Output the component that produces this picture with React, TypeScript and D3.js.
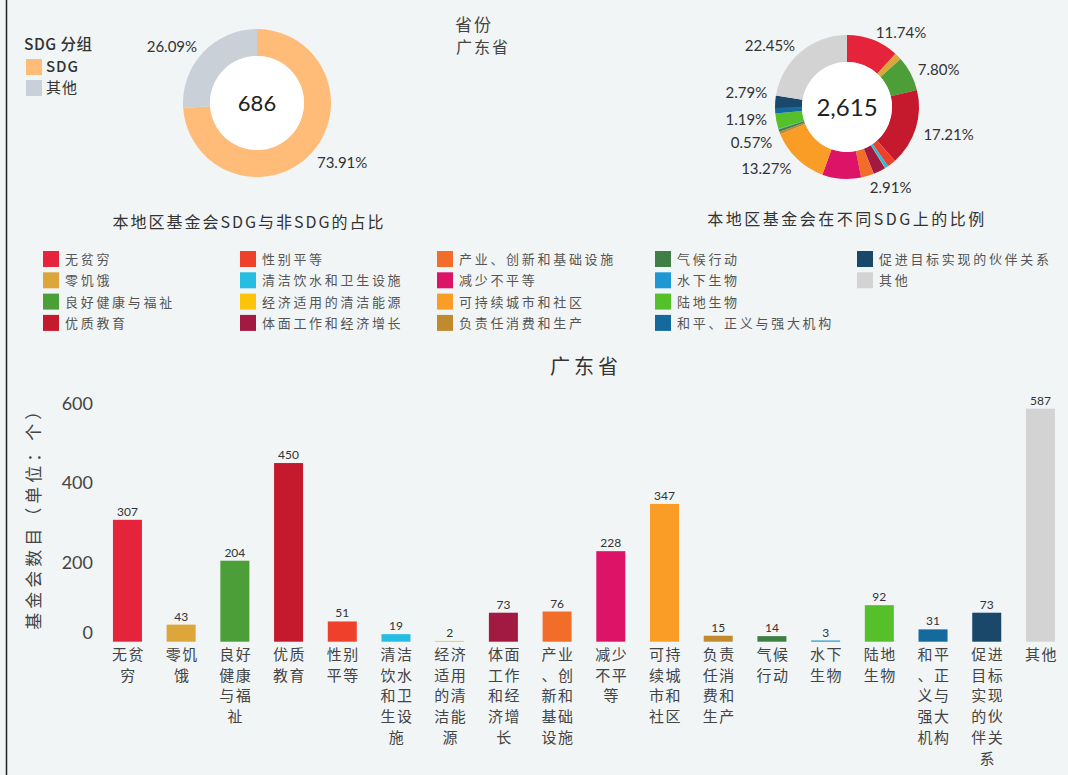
import { useEffect, useRef } from 'react';
import * as d3 from 'd3';

const SDG_NAMES = [
  '无贫穷', '零饥饿', '良好健康与福祉', '优质教育', '性别平等', '清洁饮水和卫生设施',
  '经济适用的清洁能源', '体面工作和经济增长', '产业、创新和基础设施', '减少不平等',
  '可持续城市和社区', '负责任消费和生产', '气候行动', '水下生物', '陆地生物',
  '和平、正义与强大机构', '促进目标实现的伙伴关系', '其他',
];
const SDG_COUNTS = [307, 43, 204, 450, 51, 19, 2, 73, 76, 228, 347, 15, 14, 3, 92, 31, 73, 587];
const SDG_COLORS = [
  '#e5243b', '#dda63a', '#4c9f38', '#c5192d', '#ef402b', '#26bde2', '#fcc30b', '#a21942',
  '#f36d2a', '#dd1367', '#f99d26', '#bf8b2e', '#3f7e44', '#1f97d4', '#56c02b', '#14699d',
  '#19486a', '#d3d3d3',
];
// which slices of the right donut carry a percent label
const LABELED = ['无贫穷', '良好健康与福祉', '优质教育', '产业、创新和基础设施', '可持续城市和社区',
  '负责任消费和生产', '和平、正义与强大机构', '促进目标实现的伙伴关系', '其他'];

const GROUP_NAMES = ['SDG', '其他'];
const GROUP_COUNTS = [507, 179];
const GROUP_COLORS = ['#ffbb78', '#c9d0d8'];

const Y_TICKS = [0, 200, 400, 600];
const LEGEND_COLS = [43, 240, 437, 655, 857];

const W = 1068;
const H = 775;
const BG = '#f1f5f6';
const CJK = '"Noto Sans CJK SC", sans-serif';
const NUM = 'Lato, "Noto Sans", sans-serif';

type Lbl = { x: number; y: number; right: boolean; text: string };

// push labels on the same side apart so they don't collide
function relax(labels: Lbl[], gap: number) {
  for (const side of [true, false]) {
    const s = labels.filter((l) => l.right === side).sort((a, b) => a.y - b.y);
    for (let it = 0; it < 30; it++) {
      let moved = false;
      for (let i = 1; i < s.length; i++) {
        const d = s[i].y - s[i - 1].y;
        if (d < gap) {
          const m = (gap - d) / 2;
          s[i - 1].y -= m;
          s[i].y += m;
          moved = true;
        }
      }
      if (!moved) break;
    }
  }
  return labels;
}

function donut(
  g: d3.Selection<SVGGElement, unknown, null, undefined>,
  counts: number[], colors: string[], inner: number, outer: number,
  centerSize: number, show: (i: number) => boolean,
) {
  const total = d3.sum(counts);
  const arcs = d3.pie<number>().sort(null).value((d) => d)(counts);
  const arc = d3.arc<d3.PieArcDatum<number>>().innerRadius(inner).outerRadius(outer);
  g.selectAll('path').data(arcs).join('path').attr('d', arc).attr('fill', (_, i) => colors[i]);
  g.append('circle').attr('r', inner).attr('fill', '#fff');
  g.append('text').attr('text-anchor', 'middle').attr('dy', '0.36em')
    .attr('font-family', NUM).attr('font-size', centerSize).attr('fill', '#222')
    .text(d3.format(',')(total));

  const r = outer + 8;
  const labels: Lbl[] = arcs.filter((a) => show(a.index)).map((a) => {
    const ang = (a.startAngle + a.endAngle) / 2;
    return {
      x: Math.sin(ang) * r,
      y: -Math.cos(ang) * r,
      right: Math.sin(ang) >= 0,
      text: ((a.data / total) * 100).toFixed(2) + '%',
    };
  });
  relax(labels, 23);
  g.selectAll('text.p').data(labels).join('text').attr('class', 'p')
    .attr('x', (d) => d.x).attr('y', (d) => d.y + (d.y > 0 ? 4 : 0))
    .attr('text-anchor', (d) => (d.right ? 'start' : 'end')).attr('dy', '0.35em')
    .attr('font-family', NUM).attr('font-size', 15).attr('fill', '#333')
    .text((d) => d.text);
}

export default function App() {
  const svgRef = useRef<SVGSVGElement>(null);

  useEffect(() => {
    const svg = d3.select(svgRef.current!);
    svg.selectAll('*').remove();

    svg.append('rect').attr('width', W).attr('height', H).attr('fill', BG);
    svg.append('line').attr('x1', 6.5).attr('x2', 6.5).attr('y1', 0).attr('y2', H)
      .attr('stroke', '#222').attr('stroke-width', 1.5);

    // ---- left donut: SDG vs other
    donut(svg.append('g').attr('transform', 'translate(257,103)'),
      GROUP_COUNTS, GROUP_COLORS, 47, 74, 22, () => true);

    // group legend
    svg.append('text').attr('x', 24).attr('y', 50)
      .attr('font-family', CJK).attr('font-size', 15.5).attr('fill', '#333')
      .attr('font-weight', 500).attr('letter-spacing', 0.5).text('SDG 分组');
    GROUP_NAMES.forEach((n, i) => {
      svg.append('rect').attr('x', 26).attr('y', 59 + i * 21).attr('width', 16).attr('height', 16)
        .attr('fill', GROUP_COLORS[i]);
      svg.append('text').attr('x', 46).attr('y', 72 + i * 21)
        .attr('font-family', CJK).attr('font-size', 15).attr('fill', '#333')
        .attr('font-weight', i === 0 ? 500 : 400).attr('letter-spacing', 1).text(n);
    });

    // filter label
    svg.append('text').attr('x', 455).attr('y', 31).attr('font-family', CJK)
      .attr('font-size', 17).attr('fill', '#444').attr('letter-spacing', 2).text('省份');
    svg.append('text').attr('x', 456).attr('y', 53).attr('font-family', CJK)
      .attr('font-size', 16).attr('fill', '#444').attr('letter-spacing', 2).text('广东省');

    // ---- right donut: per SDG
    donut(svg.append('g').attr('transform', 'translate(847,107)'),
      SDG_COUNTS, SDG_COLORS, 45, 72, 24, (i) => LABELED.includes(SDG_NAMES[i]));

    // donut titles
    svg.append('text').attr('x', 249).attr('y', 228).attr('text-anchor', 'middle')
      .attr('font-family', CJK).attr('font-size', 16).attr('fill', '#333')
      .attr('letter-spacing', 2).text('本地区基金会SDG与非SDG的占比');
    svg.append('text').attr('x', 847).attr('y', 225).attr('text-anchor', 'middle')
      .attr('font-family', CJK).attr('font-size', 16).attr('fill', '#333')
      .attr('letter-spacing', 2.5).text('本地区基金会在不同SDG上的比例');

    // ---- colour legend (column-major, 4 rows)
    SDG_NAMES.forEach((n, i) => {
      const col = Math.floor(i / 4);
      const row = i % 4;
      const x = LEGEND_COLS[col];
      const y = 251 + row * 21.3;
      svg.append('rect').attr('x', x).attr('y', y).attr('width', 16).attr('height', 16)
        .attr('fill', SDG_COLORS[i]);
      svg.append('text').attr('x', x + 22).attr('y', y + 13)
        .attr('font-family', CJK).attr('font-size', 13).attr('fill', '#555')
        .attr('letter-spacing', 2.7).text(n);
    });

    // ---- bar chart
    svg.append('text').attr('x', 586).attr('y', 374).attr('text-anchor', 'middle')
      .attr('font-family', CJK).attr('font-size', 20).attr('fill', '#333')
      .attr('letter-spacing', 4).text('广东省');

    const x = d3.scaleBand<string>().domain(SDG_NAMES).range([100.6, 1067.3])
      .paddingInner(0.46).paddingOuter(0.23);
    const y = d3.scaleLinear().domain([0, 600]).range([641.7, 403.5]);

    const yAxis = svg.append('g').attr('transform', 'translate(93,0)')
      .call(d3.axisLeft(y).tickValues(Y_TICKS).tickSize(0).tickPadding(0));
    yAxis.select('.domain').remove();
    yAxis.selectAll('.tick text')
      .attr('font-family', NUM).attr('font-size', 18).attr('fill', '#444')
      .attr('dy', (d) => ((d as number) === 0 ? '-0.2em' : '0.32em'));

    svg.append('text')
      .attr('transform', `translate(40,${(403.5 + 625) / 2}) rotate(-90)`)
      .attr('text-anchor', 'middle').attr('font-family', CJK).attr('font-size', 17)
      .attr('fill', '#444').attr('letter-spacing', 4).text('基金会数目（单位：个）');

    const bars = svg.append('g');
    bars.selectAll('rect').data(SDG_COUNTS).join('rect')
      .attr('x', (_, i) => x(SDG_NAMES[i])!)
      .attr('y', (d) => y(d))
      .attr('width', x.bandwidth())
      .attr('height', (d) => y(0) - y(d))
      .attr('fill', (_, i) => SDG_COLORS[i]);
    bars.selectAll('text').data(SDG_COUNTS).join('text')
      .attr('x', (_, i) => x(SDG_NAMES[i])! + x.bandwidth() / 2)
      .attr('y', (d) => y(d) - 4)
      .attr('text-anchor', 'middle').attr('font-family', NUM).attr('font-size', 12)
      .attr('fill', '#333').text((d) => d);

    // x labels, two characters per line
    const xl = svg.append('g');
    SDG_NAMES.forEach((n) => {
      const chunks: string[] = [];
      for (let k = 0; k < n.length; k += 2) chunks.push(n.slice(k, k + 2));
      const t = xl.append('text')
        .attr('font-family', CJK).attr('font-size', 15).attr('fill', '#444')
        .attr('text-anchor', 'middle');
      chunks.forEach((c, j) => {
        t.append('tspan').attr('x', x(n)! + x.bandwidth() / 2 + 1).attr('y', 660 + j * 20.7)
          .attr('letter-spacing', 1.5).text(c);
      });
    });
  }, []);

  return (
    <svg ref={svgRef} width={W} height={H}
      style={{ position: 'absolute', left: 0, top: 0, display: 'block' }} />
  );
}
